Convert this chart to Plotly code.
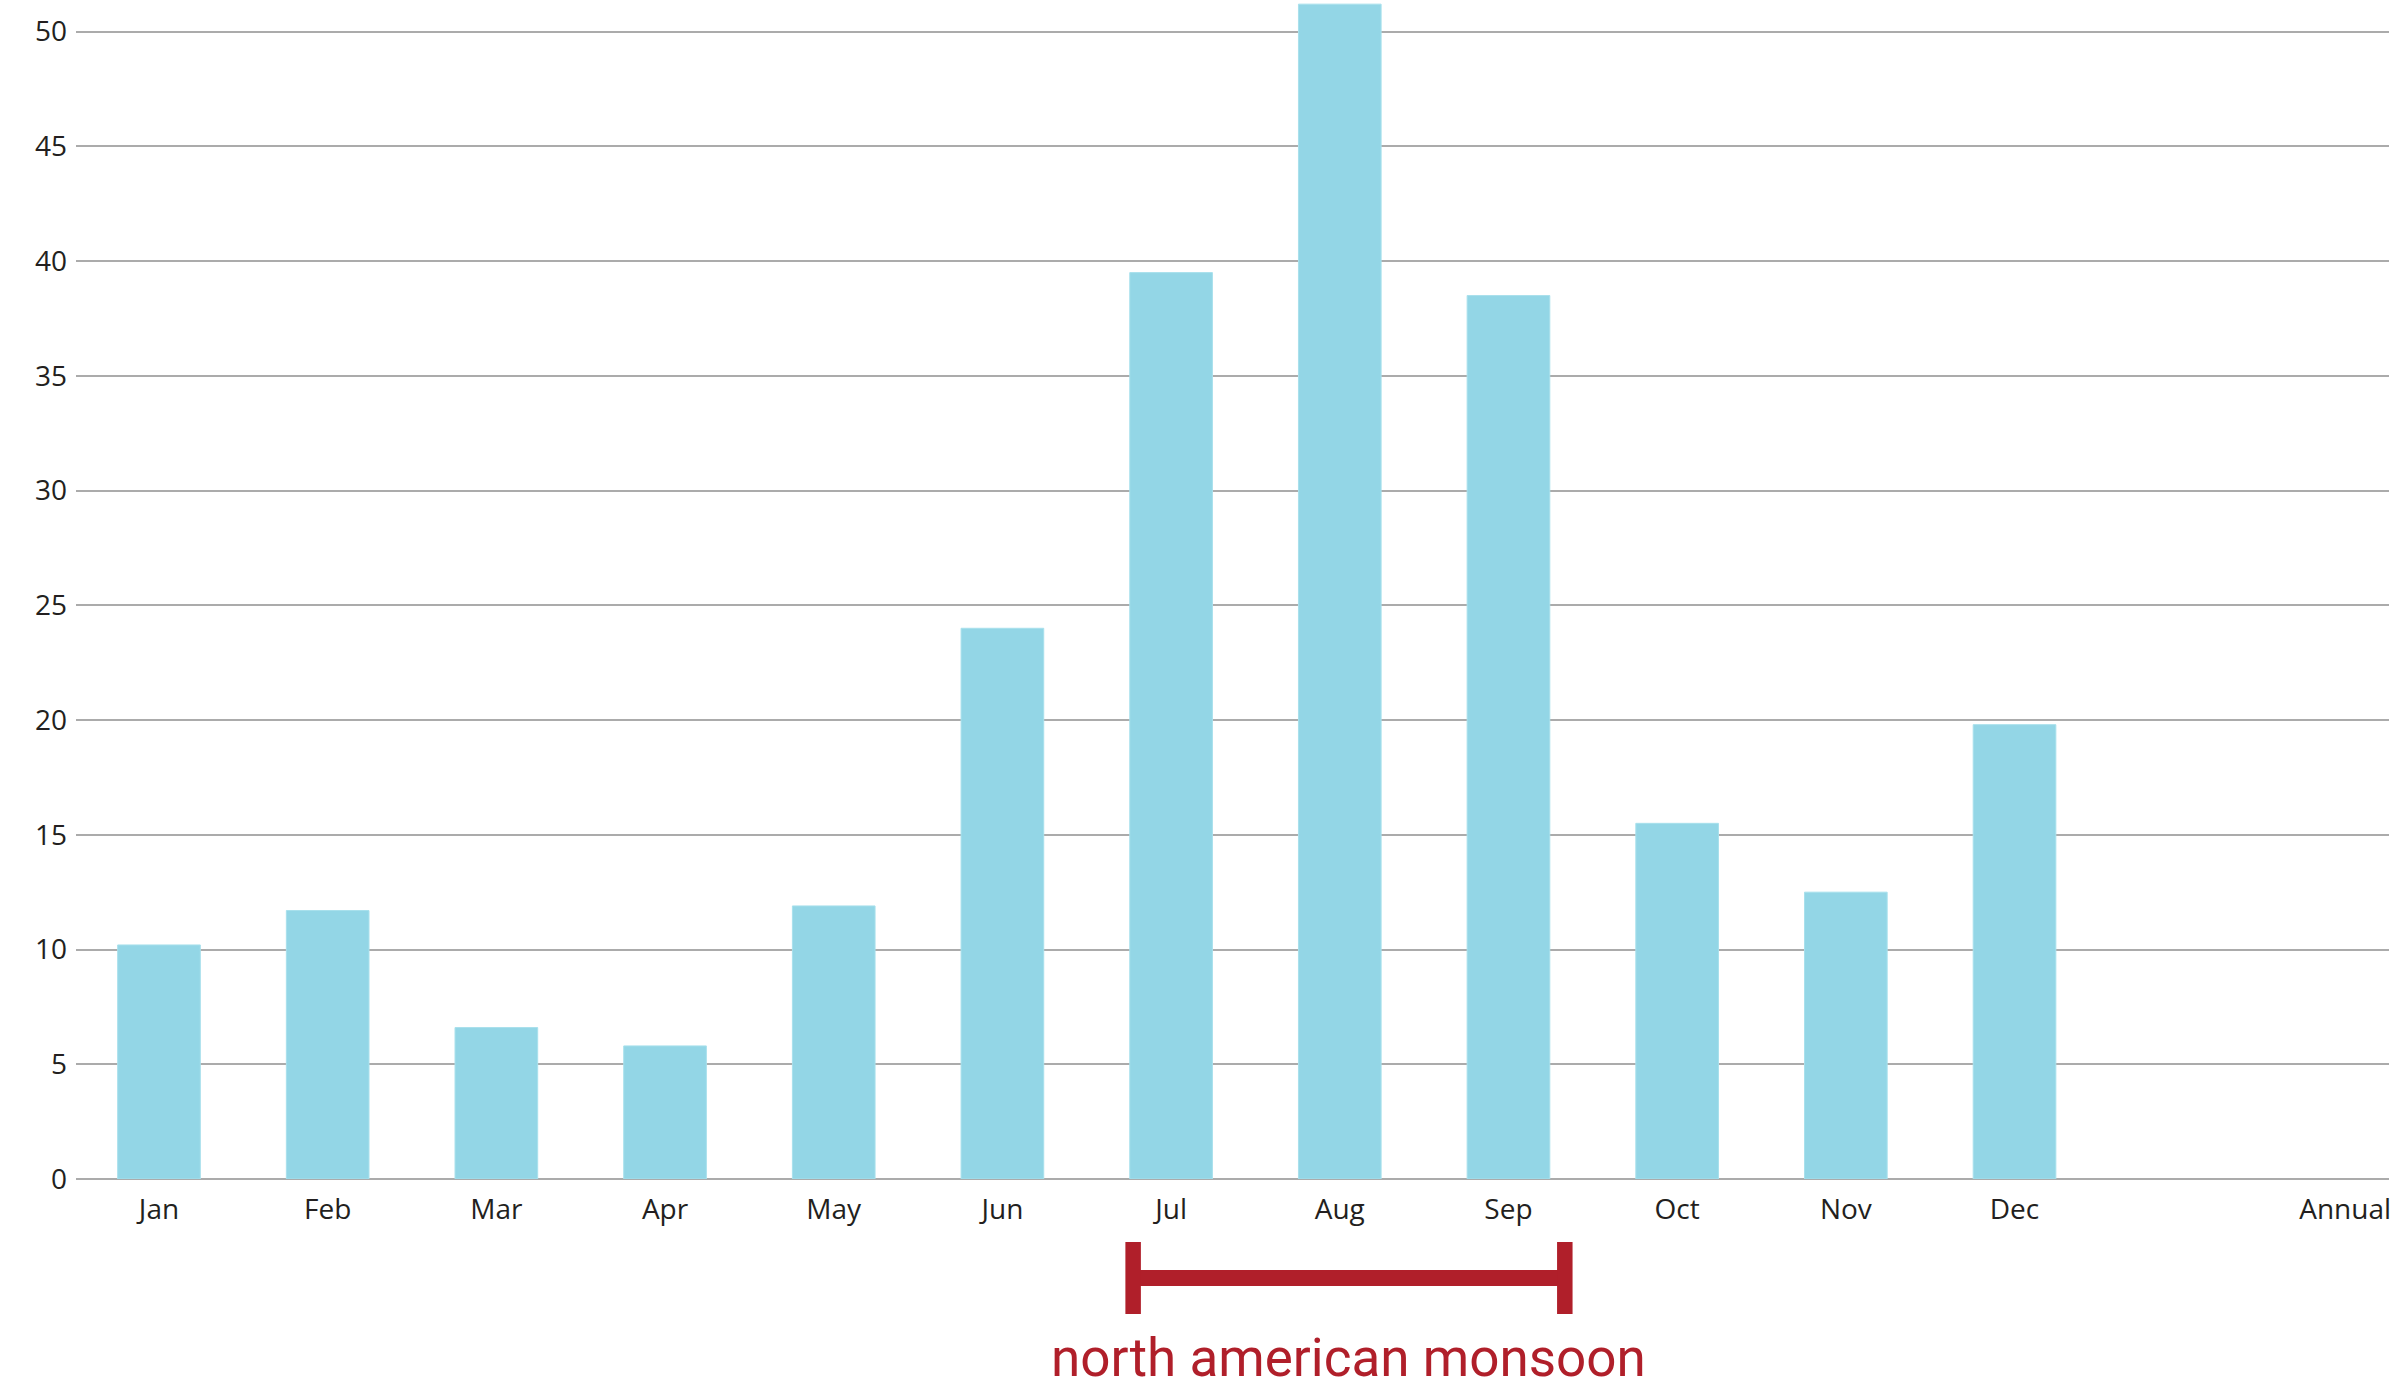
import plotly.graph_objects as go

months = ["Jan", "Feb", "Mar", "Apr", "May", "Jun", "Jul", "Aug", "Sep", "Oct", "Nov", "Dec"]
rainfall = [10.2, 11.7, 6.6, 5.8, 11.9, 24.0, 39.5, 51.2, 38.5, 15.5, 12.5, 19.8]
annual_label = "Annual"
y_ticks = [0, 5, 10, 15, 20, 25, 30, 35, 40, 45, 50]
monsoon_text = "north american monsoon"
monsoon_span = [5.775, 8.334]  # category-axis positions of bracket ends

x_pos = list(range(len(months)))
annual_pos = 12.96

BAR = "#93D6E6"
RED = "#B01F2A"
GRID = "#ABABAB"

fig = go.Figure()
fig.add_trace(go.Bar(
    x=x_pos, y=rainfall, width=0.49,
    marker=dict(color=BAR, line=dict(color="#A8E0EC", width=1)),
    hoverinfo="x+y", showlegend=False,
))

shapes = []
shapes.append(dict(type="line", xref="x", yref="paper",
                   x0=monsoon_span[0], x1=monsoon_span[1], y0=-0.084, y1=-0.084,
                   line=dict(color=RED, width=16)))
for xv in monsoon_span:
    shapes.append(dict(type="line", xref="x", yref="paper",
                       x0=xv, x1=xv, y0=-0.0534, y1=-0.1145,
                       line=dict(color=RED, width=15.5)))

fig.update_layout(
    width=2398, height=1392,
    margin=dict(l=76, r=9, t=0, b=213),
    paper_bgcolor="white", plot_bgcolor="white",
    font=dict(family="Open Sans", size=28, color="#231F20"),
    xaxis=dict(
        range=[-0.492, 13.22],
        tickmode="array",
        tickvals=x_pos + [annual_pos],
        ticktext=months + [annual_label],
        showgrid=False, zeroline=False, showline=False,
        ticks="", ticklabelstandoff=11,
        fixedrange=True,
    ),
    yaxis=dict(
        range=[0, 51.38],
        tickmode="array", tickvals=y_ticks,
        showgrid=True, gridcolor=GRID, gridwidth=1.6,
        zeroline=True, zerolinecolor=GRID, zerolinewidth=1.6,
        showline=False, ticks="", ticklabelstandoff=8,
        fixedrange=True,
    ),
    shapes=shapes,
    annotations=[dict(
        text=monsoon_text, xref="x", yref="paper",
        x=7.054, y=-0.152,
        xanchor="center", yanchor="middle", showarrow=False,
        font=dict(family="Roboto", size=53, color=RED),
    )],
)

fig.write_html("out.html", post_script="document.body.style.margin='0';",
               config={"displayModeBar": False})
